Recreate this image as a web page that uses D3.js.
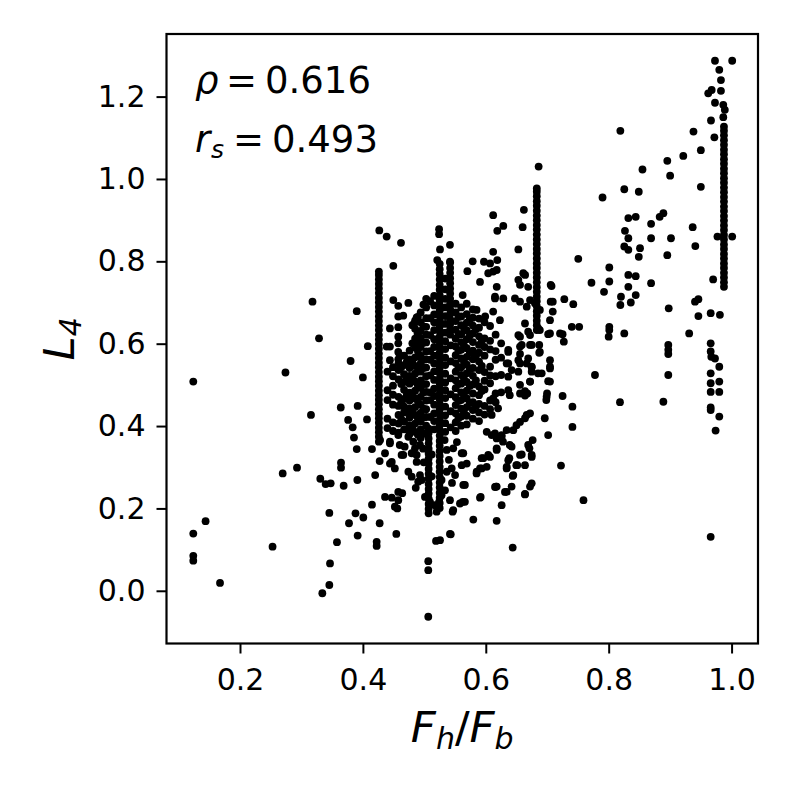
<!DOCTYPE html>
<html>
<head>
<meta charset="utf-8">
<script src="https://cdn.jsdelivr.net/npm/d3@7"></script>
<style>
  body { margin: 0; background: #fff; }
  svg text { font-family: "DejaVu Sans", sans-serif; fill: #000; }
</style>
</head>
<body>
<svg id="chart" width="793" height="793"></svg>
<script>
// tick values
const xTicks = [0.2, 0.4, 0.6, 0.8, 1.0];
const yTicks = [0.0, 0.2, 0.4, 0.6, 0.8, 1.0, 1.2];

// correlation labels
const rhoValue = "0.616";
const rsValue = "0.493";

// isolated points, left of the core
const ptsLeft = [
  [0.124,0.508],[0.124,0.139],[0.124,0.085],[0.124,0.073],[0.144,0.169],[0.1675,0.019],
  [0.253,0.107],[0.2695,0.285],[0.274,0.530],[0.2928,0.299],[0.3155,0.427],[0.318,0.702],
  [0.3286,0.613],[0.3307,0.272],[0.334,-0.006],[0.3394,0.259],[0.3454,0.189],[0.3454,0.014],
  [0.3465,0.0665],[0.3476,0.261],[0.3578,0.118],[0.3644,0.311],[0.3644,0.299],[0.364,0.445],
  [0.3687,0.255],[0.376,0.415],[0.3774,0.164],[0.380,0.558],[0.3834,0.397],[0.3855,0.372],
  [0.388,0.188],[0.390,0.344],[0.390,0.679],[0.391,0.269],[0.3915,0.449],[0.3915,0.134],
  [0.400,0.518],[0.4007,0.178],[0.4067,0.416],[0.408,0.594],[0.4148,0.344],[0.4148,0.209],
  [0.420,0.281],[0.4224,0.119],[0.4224,0.109],[0.4273,0.315],[0.4273,0.164],
  [0.4267,0.875],[0.4387,0.860],[0.462,0.845],[0.4495,0.789]
];

// points around the core (x 0.43 - 0.56)
const ptsMid = [
  [0.4495,0.706],[0.4576,0.692],[0.4576,0.666],[0.474,0.699],[0.4657,0.668],[0.4875,0.664],
  [0.4836,0.649],[0.444,0.637],[0.4576,0.640],[0.4576,0.617],[0.4387,0.593],[0.4576,0.580],
  [0.4576,0.562],[0.444,0.560],[0.4713,0.554],[0.489,0.625],[0.490,0.601],[0.4929,0.568],
  [0.444,0.593],[0.4576,0.601],[0.460,0.572],
  [0.444,0.358],[0.460,0.354],[0.4657,0.330],[0.4875,0.330],[0.444,0.309],[0.428,0.366],
  [0.444,0.362],[0.4576,0.378],[0.474,0.374],[0.436,0.334],[0.447,0.313],[0.452,0.297],
  [0.463,0.330],[0.4794,0.334],[0.4848,0.346],[0.4929,0.354],[0.474,0.289],[0.4794,0.277],
  [0.490,0.265],[0.4957,0.269],[0.4576,0.240],[0.4576,0.220],[0.436,0.228],[0.447,0.226],
  [0.452,0.204],[0.501,0.228],[0.5092,0.216],[0.5173,0.208],[0.520,0.192],[0.5364,0.342],
  [0.547,0.346],[0.5608,0.334],[0.5445,0.297],[0.5364,0.289],[0.550,0.281],[0.5608,0.305],
  [0.528,0.269],[0.5336,0.244],[0.5417,0.220],[0.547,0.196],[0.4875,0.313],[0.4929,0.281],
  [0.456,0.200],[0.464,0.237],[0.486,0.250],[0.524,0.216],[0.528,0.232],[0.4544,0.138],
  [0.5064,0.072],[0.5064,0.050],[0.5064,-0.063],[0.519,0.121],[0.543,0.137],
  [0.498,0.345],[0.512,0.331],[0.540,0.318],[0.553,0.361],[0.533,0.366],[0.499,0.312],
  [0.545,0.262],[0.512,0.278],[0.468,0.350],[0.482,0.362]
];

// points above the core (vy > 0.55, x 0.52 - 0.78)
const ptsUpper = [
  [0.6285,0.886],[0.6187,0.874],[0.612,0.912],[0.660,0.883],[0.662,0.925],[0.653,0.829],
  [0.612,0.823],[0.5787,0.800],[0.597,0.799],[0.607,0.795],[0.6187,0.803],[0.570,0.776],
  [0.5906,0.750],[0.604,0.771],[0.612,0.775],[0.6178,0.779],[0.661,0.771],[0.653,0.755],
  [0.6557,0.743],[0.664,0.767],[0.669,0.738],[0.672,0.706],[0.6666,0.690],[0.680,0.698],
  [0.688,0.682],[0.7056,0.743],[0.7056,0.702],[0.7045,0.657],[0.7045,0.625],[0.7208,0.625],
  [0.5624,0.718],[0.615,0.710],[0.6285,0.710],[0.6475,0.710],[0.6557,0.702],[0.6638,0.649],
  [0.669,0.629],[0.6853,0.637],[0.653,0.621],[0.672,0.597],[0.6557,0.593],[0.688,0.580],
  [0.653,0.560],[0.6666,0.552],[0.6747,0.544],[0.6366,0.580],[0.634,0.552],[0.612,0.678],
  [0.623,0.657],[0.599,0.666],[0.585,0.682],[0.6178,0.738],[0.615,0.714],
  [0.5417,0.840],[0.524,0.878],[0.524,0.866],[0.5255,0.829],[0.521,0.803],[0.5417,0.799],
  [0.707,0.740],[0.709,0.702],[0.709,0.678],[0.7278,0.708],[0.7424,0.696],[0.740,0.641],
  [0.752,0.641],[0.7505,0.806],[0.772,0.748],[0.686,1.030]
];

// points below / right of the core (x 0.52 - 0.78, vy < 0.63)
const ptsLower = [
  [0.672,0.621],[0.6557,0.617],[0.6747,0.597],[0.6585,0.597],[0.6557,0.575],[0.669,0.564],
  [0.6557,0.552],[0.6747,0.543],[0.653,0.532],[0.672,0.508],[0.6557,0.500],[0.6675,0.479],
  [0.6557,0.479],[0.642,0.536],[0.6366,0.520],[0.6366,0.552],[0.6366,0.585],
  [0.687,0.578],[0.687,0.597],[0.727,0.605],[0.725,0.623],[0.7015,0.623],[0.688,0.633],
  [0.7045,0.560],[0.7045,0.544],[0.7045,0.508],[0.685,0.528],[0.691,0.528],[0.6747,0.532],
  [0.6997,0.479],[0.6985,0.463],[0.725,0.473],[0.741,0.447],[0.741,0.398],[0.696,0.419],
  [0.7015,0.378],[0.7224,0.304],[0.759,0.220],
  [0.672,0.431],[0.6638,0.419],[0.6557,0.410],[0.650,0.402],[0.6763,0.366],[0.671,0.346],
  [0.6747,0.325],[0.6557,0.330],[0.642,0.350],[0.6383,0.322],[0.634,0.301],[0.6438,0.279],
  [0.642,0.253],[0.6312,0.240],[0.6166,0.253],[0.6258,0.208],[0.6177,0.170],[0.6438,0.105],
  [0.6638,0.235],[0.672,0.253],[0.6747,0.261],[0.6512,0.305],
  [0.634,0.390],[0.6258,0.378],[0.615,0.382],[0.6015,0.386],[0.6177,0.346],[0.6068,0.325],
  [0.5933,0.322],[0.5852,0.289],[0.5933,0.297],[0.6015,0.301],
  [0.566,0.257],[0.5624,0.216],[0.558,0.212],[0.546,0.192],[0.5797,0.173],[0.5917,0.228],
  [0.5417,0.138],[0.615,0.252],[0.5255,0.123],
  [0.6666,0.427],[0.6448,0.390],[0.6096,0.378],[0.6177,0.370],[0.6258,0.374],[0.639,0.354],
  [0.628,0.362],[0.669,0.354],[0.6747,0.330],[0.6585,0.331],[0.6638,0.305],[0.6177,0.342],
  [0.604,0.330],[0.596,0.322],[0.5634,0.334],[0.569,0.309],[0.5906,0.297],[0.585,0.285],
  [0.6366,0.317],[0.634,0.297],[0.6497,0.305],[0.6448,0.281],[0.5634,0.257],[0.6177,0.253],
  [0.634,0.240],[0.6638,0.234],[0.5906,0.226],[0.566,0.216],
  [0.699,0.471],[0.7015,0.509],[0.672,0.508],[0.6638,0.474],[0.6638,0.485],[0.639,0.475],
  [0.6366,0.487],[0.612,0.467],[0.620,0.443],[0.6096,0.427],[0.7045,0.540]
];

// points with F_h/F_b > 0.75
const ptsRight = [
  [0.973,1.287],[1.001,1.287],[0.980,1.265],[0.9827,1.240],[0.9827,1.214],[0.962,1.208],
  [0.9676,1.216],[0.973,1.185],[0.9865,1.180],[0.989,1.168],[0.9665,1.142],[0.972,1.101],
  [0.9865,1.150],[0.977,0.860],[1.001,0.860],[0.970,0.756],[0.966,0.674],[0.981,0.670],
  [0.938,1.115],[0.950,1.070],[0.9214,1.056],[0.8954,1.044],[0.900,1.008],[0.950,0.981],
  [0.855,1.023],[0.819,1.117],[0.8254,0.975],[0.849,0.969],[0.790,0.955],[0.832,0.905],
  [0.844,0.908],[0.8265,0.874],[0.832,0.856],[0.8254,0.836],[0.832,0.828],[0.851,0.832],
  [0.849,0.811],[0.869,0.891],[0.883,0.908],[0.889,0.917],[0.869,0.856],[0.9014,0.856],
  [0.8954,0.815],[0.9367,0.883],[0.941,0.837],[0.801,0.785],[0.801,0.751],[0.7924,0.726],
  [0.832,0.767],[0.844,0.764],[0.832,0.738],[0.844,0.718],[0.820,0.714],[0.819,0.694],
  [0.836,0.700],[0.869,0.747],[0.8977,0.686],[0.9405,0.702],[0.946,0.708],[0.946,0.667],
  [0.801,0.641],[0.800,0.617],[0.801,0.633],[0.8254,0.625],[0.931,0.625],[0.897,0.597],
  [0.897,0.585],[0.897,0.575],[0.897,0.524],[0.7777,0.524],[0.8184,0.458],[0.889,0.459],
  [0.966,0.601],[0.966,0.581],[0.967,0.568],[0.973,0.564],[0.980,0.544],[0.966,0.528],
  [0.980,0.508],[0.966,0.504],[0.980,0.483],[0.966,0.483],[0.966,0.445],[0.966,0.439],
  [0.980,0.423],[0.974,0.389],[0.966,0.131]
];

// dense core: [x, y values] stacks
const coreStacks = [
  [0.440, [0.395,0.418,0.463,0.487,0.532]],
  [0.449, [0.388,0.409,0.452,0.476,0.498,0.521,0.543]],
  [0.458, [0.384,0.406,0.427,0.449,0.471,0.513,0.536,0.552]],
  [0.467, [0.392,0.411,0.433,0.447,0.466,0.488,0.507,0.526,0.548,0.571]],
  [0.476, [0.381,0.402,0.421,0.443,0.462,0.481,0.503,0.522,0.541,0.562,0.583]],
  [0.485, [0.386,0.406,0.427,0.446,0.467,0.486,0.508,0.527,0.546,0.567,0.591,0.612,0.636,0.656]],
  [0.494, [0.371,0.392,0.411,0.432,0.452,0.471,0.493,0.511,0.532,0.552,0.571,0.592,0.613,0.631,0.652,0.676]],
  [0.503, [0.381,0.401,0.422,0.441,0.462,0.483,0.502,0.521,0.542,0.562,0.581,0.603,0.622,0.641,0.662,0.688,0.709]],
  [0.516, [0.392,0.412,0.431,0.452,0.473,0.491,0.512,0.533,0.552,0.571,0.592,0.611,0.633,0.652,0.671,0.693,0.716]],
  [0.534, [0.386,0.407,0.426,0.447,0.468,0.487,0.506,0.527,0.548,0.566,0.587,0.606,0.627,0.648,0.667,0.688,0.709,0.732,0.758]],
  [0.551, [0.388,0.409,0.431,0.451,0.470,0.492,0.511,0.532,0.553,0.572,0.593,0.612,0.634,0.655,0.676,0.697]],
  [0.560, [0.401,0.423,0.442,0.463,0.482,0.503,0.524,0.543,0.564,0.585,0.604,0.623,0.645,0.666,0.688]],
  [0.569, [0.404,0.425,0.446,0.467,0.486,0.507,0.528,0.549,0.568,0.589,0.611,0.632,0.651,0.672,0.697]],
  [0.579, [0.418,0.439,0.458,0.479,0.501,0.522,0.541,0.562,0.583,0.604,0.625,0.644,0.663,0.683]],
  [0.589, [0.412,0.433,0.454,0.475,0.496,0.536,0.557,0.578,0.597,0.618,0.639,0.661]],
  [0.598, [0.428,0.449,0.489,0.510,0.531,0.571,0.592,0.613,0.652]],
  [0.607, [0.441,0.462,0.504,0.523,0.544,0.586,0.607,0.643]],
  [0.616, [0.458,0.479,0.521,0.561,0.582,0.622]],
  [0.625, [0.482,0.524,0.566,0.601]]
];

// second layer of the core, in between the stacks above
const coreFill = [
  [0.4625, [0.417,0.459,0.502,0.543]],
  [0.4715, [0.392,0.436,0.476,0.514,0.556]],
  [0.4805, [0.396,0.437,0.476,0.517,0.557,0.601,0.645]],
  [0.4895, [0.379,0.419,0.461,0.499,0.541,0.582,0.623,0.665]],
  [0.4985, [0.383,0.421,0.442,0.482,0.502,0.541,0.561,0.602,0.642,0.695]],
  [0.5095, [0.422,0.463,0.482,0.523,0.561,0.582,0.621,0.662,0.703]],
  [0.543, [0.397,0.436,0.477,0.516,0.557,0.596]],
  [0.5555, [0.419,0.461,0.502,0.542,0.583,0.623,0.665]],
  [0.5645, [0.433,0.474,0.514,0.556,0.596,0.638]],
  [0.574, [0.456,0.497,0.538,0.578,0.620,0.660]],
  [0.584, [0.449,0.511,0.572,0.635]],
  [0.5935, [0.485,0.546,0.607]]
];

// vertical runs of points at a single F_h/F_b value
const columns = [
  [0.426, [0.362,0.374,0.385,0.396,0.408,0.419,0.430,0.441,0.453,0.464,0.475,0.486,0.498,0.509,
           0.520,0.531,0.543,0.554,0.565,0.576,0.588,0.599,0.610,0.621,0.633,0.644,0.655,0.666,
           0.678,0.689,0.700,0.711,0.723,0.734,0.745,0.756,0.767,0.775]],
  [0.507, [0.188,0.199,0.211,0.224,0.236,0.247,0.259,0.272,0.284,0.296,0.309,0.321,0.333,0.345,
           0.358,0.370,0.383,0.394]],
  [0.525, [0.201,0.213,0.226,0.238,0.251,0.263,0.276,0.289,0.301,0.314,0.327,0.339,0.352,0.364,
           0.377,0.390,0.402,0.415,0.428,0.440,0.453,0.465,0.478,0.491,0.503,0.516,0.529,0.541,
           0.554,0.566,0.579,0.592,0.604,0.617,0.630,0.642,0.655,0.667,0.680,0.693,0.705,0.718,
           0.731,0.743,0.756,0.769,0.781,0.794]],
  [0.542, [0.622,0.634,0.647,0.659,0.672,0.684,0.697,0.709,0.722,0.734,0.747,0.759,0.772,0.784,0.797]],
  [0.683, [0.633,0.645,0.656,0.668,0.679,0.691,0.703,0.714,0.726,0.737,0.749,0.761,0.772,0.784,
           0.795,0.807,0.819,0.830,0.842,0.853,0.865,0.877,0.888,0.900,0.911,0.923,0.935,0.946,
           0.958,0.969,0.977]],
  [0.9876, [0.738,0.749,0.761,0.772,0.784,0.795,0.807,0.818,0.830,0.841,0.853,0.864,0.876,0.887,
            0.899,0.910,0.922,0.933,0.945,0.956,0.968,0.979,0.991,1.002,1.014,1.025,1.037,1.048,
            1.060,1.071,1.083,1.094,1.106,1.117,1.127]]
];

const stackPts = stacks => stacks.flatMap(([cx, ys]) => ys.map(v => [cx, v]));
const allPoints = [
  ...ptsLeft, ...ptsMid, ...ptsUpper, ...ptsLower, ...ptsRight,
  ...stackPts(coreStacks), ...stackPts(coreFill), ...stackPts(columns)
];

const plot = { left: 166.5, right: 758, top: 34, bottom: 643.5 };
const tickFont = 30;

const svg = d3.select("#chart");

const x = d3.scaleLinear().domain([0.0804, 1.043]).range([plot.left, plot.right]);
const y = d3.scaleLinear().domain([-0.128, 1.352]).range([plot.bottom, plot.top]);

// points
svg.append("g")
  .selectAll("circle")
  .data(allPoints)
  .enter()
  .append("circle")
  .attr("cx", d => x(d[0]))
  .attr("cy", d => y(d[1]))
  .attr("r", 3.9)
  .attr("fill", "#000");

// axes
const xAxis = svg.append("g")
  .attr("transform", `translate(0,${plot.bottom})`)
  .call(d3.axisBottom(x).tickValues(xTicks).tickFormat(d3.format(".1f")).tickSize(10).tickPadding(15));
const yAxis = svg.append("g")
  .attr("transform", `translate(${plot.left},0)`)
  .call(d3.axisLeft(y).tickValues(yTicks).tickFormat(d3.format(".1f")).tickSize(10).tickPadding(11));

[xAxis, yAxis].forEach(g => {
  g.select(".domain").remove();
  g.selectAll(".tick line").attr("stroke", "#000").attr("stroke-width", 2);
  g.selectAll(".tick text")
    .style("font-family", "'DejaVu Sans'")
    .style("font-size", tickFont + "px")
    .attr("fill", "#000");
});

// frame
svg.append("rect")
  .attr("x", plot.left).attr("y", plot.top)
  .attr("width", plot.right - plot.left).attr("height", plot.bottom - plot.top)
  .attr("fill", "none").attr("stroke", "#000").attr("stroke-width", 2.2);

// annotation
const ann1 = svg.append("text").attr("y", 92.7).style("font-size", "37px");
ann1.append("tspan").attr("x", 195).style("font-style", "italic").text("ρ");
ann1.append("tspan").attr("x", 226).text("=");
ann1.append("tspan").attr("x", 265).text(rhoValue);

const ann2 = svg.append("text").attr("y", 151.7).style("font-size", "37px");
ann2.append("tspan").attr("x", 195).style("font-style", "italic").text("r");
ann2.append("tspan").attr("x", 211).attr("dy", 6.6).style("font-style", "italic").style("font-size", "25px").text("s");
ann2.append("tspan").attr("x", 233).attr("dy", -6.6).text("=");
ann2.append("tspan").attr("x", 272).text(rsValue);

// x label F_h/F_b
const xl = svg.append("text")
  .attr("x", (plot.left + plot.right) / 2).attr("y", 741.7)
  .attr("text-anchor", "middle")
  .style("font-size", "43.5px").style("font-style", "italic");
xl.append("tspan").text("F");
xl.append("tspan").attr("dy", 7).style("font-size", "30px").text("h");
xl.append("tspan").attr("dy", -7).style("font-style", "normal").text("/");
xl.append("tspan").text("F");
xl.append("tspan").attr("dy", 7).style("font-size", "30px").text("b");

// y label L_4
const yl = svg.append("text")
  .attr("transform", `translate(74,${(plot.top + plot.bottom) / 2}) rotate(-90)`)
  .attr("text-anchor", "middle")
  .style("font-size", "43.5px").style("font-style", "italic");
yl.append("tspan").text("L");
yl.append("tspan").attr("dy", 7).style("font-size", "30px").text("4");
</script>
</body>
</html>
